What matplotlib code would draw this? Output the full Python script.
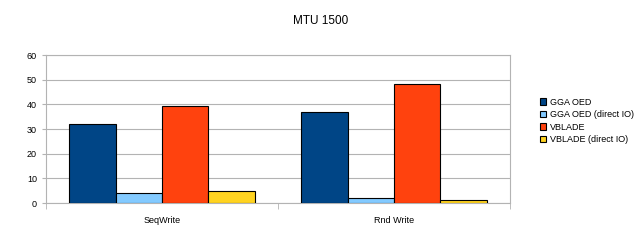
import numpy as np
import matplotlib
matplotlib.use("Agg")
import matplotlib.pyplot as plt

categories = ["SeqWrite", "Rnd Write"]
series = ["GGA OED", "GGA OED (direct IO)", "VBLADE", "VBLADE (direct IO)"]
colors = ["#004586", "#83caff", "#ff420e", "#ffd320"]
values = [
    [32.0, 36.8],
    [3.9, 1.9],
    [39.2, 48.2],
    [5.0, 1.1],
]

plt.rcParams['font.family'] = ['Liberation Sans', 'DejaVu Sans']
fig = plt.figure(figsize=(6.41, 2.42), dpi=100)
ax = fig.add_axes([0.0718, 0.161, 0.7238, 0.6117])

x = np.arange(len(categories))
w = 0.2
for i, (name, vals) in enumerate(zip(series, values)):
    ax.bar(x - 0.3 + i * w, vals, w, color=colors[i], edgecolor="black",
           linewidth=0.8, label=name, zorder=3)

ax.set_xlim(-0.5, len(categories) - 0.5)
ax.set_ylim(0, 60)
ax.set_yticks(range(0, 61, 10))
ax.set_xticks(x)
ax.set_xticklabels(categories, fontsize=6.5)
ax.set_xticks([-0.5, 0.5, 1.5], minor=True)
ax.tick_params(axis="x", which="major", length=0, pad=9)
ax.tick_params(axis="x", which="minor", length=4, color="#b3b3b3")
ax.tick_params(axis="y", labelsize=6.5, length=3, color="#b3b3b3")
ax.grid(axis="y", color="#b3b3b3", linewidth=0.8, zorder=0)
for s in ax.spines.values():
    s.set_color("#b3b3b3")
    s.set_linewidth(0.8)

fig.suptitle("MTU 1500", fontsize=8.5, y=0.94)
fig.legend(loc="center left", bbox_to_anchor=(0.83, 0.5), frameon=False,
           fontsize=6.5, handlelength=0.7, handleheight=0.7, handletextpad=0.4,
           labelspacing=0.4)

fig.savefig("out.png", dpi=100)
